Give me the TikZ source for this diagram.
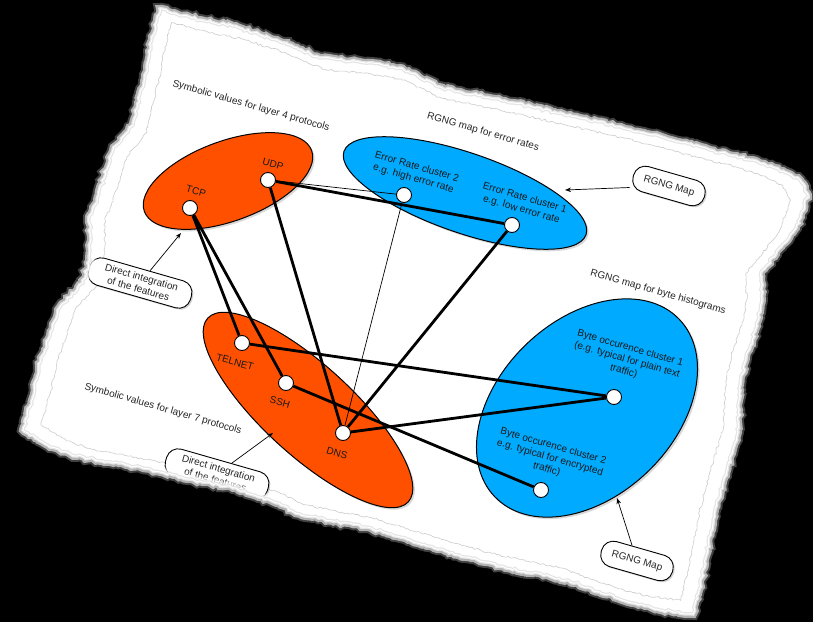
\documentclass[tikz,border=0pt]{standalone}
\usepackage{fontspec}
\setmainfont{Liberation Sans}
\usetikzlibrary{shapes.geometric,arrows.meta,decorations.pathmorphing,shadows}
\definecolor{orng}{HTML}{FF5000}
\definecolor{blu}{HTML}{00AAFF}
\pgfdeclarelayer{bg}
\pgfdeclarelayer{edges}
\pgfsetlayers{bg,edges,main}
\begin{document}
\begin{tikzpicture}[x=1pt,y=-1pt,
  ell/.style={ellipse, draw=black, line width=1pt, inner sep=0pt,
    drop shadow={opacity=0.3,shadow xshift=2pt,shadow yshift=-2pt}},
  pt/.style={circle, draw=black, fill=white, line width=0.9pt, minimum size=15pt, inner sep=0pt},
  lbl/.style={font=\fontsize{10}{12}\selectfont, rotate=-16, text=black!90, align=center, inner sep=0pt},
  ttl/.style={font=\fontsize{10}{12}\selectfont, rotate=-16, text=black!85, inner sep=0pt},
  callout/.style={draw=black, fill=white, rounded corners=12pt, line width=0.9pt, rotate=-16,
    font=\fontsize{10}{12}\selectfont, text=black!85, align=center, inner sep=0pt,
    drop shadow={opacity=0.35,shadow xshift=1.5pt,shadow yshift=-1.5pt}},
  heavy/.style={line width=2.8pt},
  light/.style={line width=0.7pt},
  ptr/.style={line width=0.7pt, -{Stealth[length=6pt,width=4.5pt]}}
]
\useasboundingbox (0,0) rectangle (813,621);

\begin{pgfonlayer}{bg}
\fill[white] (0,0) rectangle (813,621);
\begin{scope}[shift={(420,310)},scale=0.955,shift={(-420,-310)}]
\pgfmathsetseed{7}
\draw[gray!40, line width=0.6pt, decorate, decoration={random steps,segment length=2.5pt,amplitude=1pt}]
 (160,9) -- (200,20) -- (233,26) -- (277,40) -- (320,58) -- (360,62) -- (400,68) -- (442,88) -- (490,98) -- (532,107) -- (580,118) -- (621,127) -- (665,138) -- (710,150) -- (750,160) -- (775,168) -- (800,180) -- (808,195) -- (796,228) -- (776,254) -- (761,272) -- (762,300) -- (757,326) -- (746,358) -- (740,385) -- (738,432) -- (723,482) -- (713,520) -- (706,556) -- (699,590) -- (693,614) -- (660,610) -- (633,603) -- (600,592) -- (567,580) -- (533,573) -- (500,566) -- (467,557) -- (433,547) -- (400,537) -- (367,527) -- (333,521) -- (300,514) -- (270,500) -- (233,488) -- (187,479) -- (160,472) -- (143,468) -- (110,462) -- (77,456) -- (50,447) -- (23,430) -- (33,397) -- (40,363) -- (45,350) -- (52,330) -- (60,307) -- (83,283) -- (90,260) -- (90,215) -- (97,200) -- (113,150) -- (133,125) -- (147,67) -- (152,40) -- (157,20) -- cycle;
\end{scope}
\node[ell, fill=orng, minimum width=178pt, minimum height=80pt, rotate=20] (l4) at (228,181) {};
\node[ell, fill=blu, minimum width=256pt, minimum height=80pt, rotate=-19] (er) at (465,193) {};
\node[ell, fill=orng, minimum width=272pt, minimum height=90pt, rotate=-42.5] (l7) at (308,410) {};
\node[ell, fill=blu, minimum width=256pt, minimum height=176pt, rotate=44] (bh) at (587,408) {};
\end{pgfonlayer}

% titles
\node[ttl] (t4) at (251,106) {Symbolic values for layer 4 protocols};
\node[ttl] (ter) at (483,132) {RGNG map for error rates};
\node[ttl] (tbh) at (658,292) {RGNG map for byte histograms};
\node[ttl] (t7) at (163,409) {Symbolic values for layer 7 protocols};

% points
\node[pt] (tcp) at (190,208) {};
\node[pt] (udp) at (268,180) {};
\node[pt] (er2) at (404,195) {};
\node[pt] (er1) at (512,225) {};
\node[pt] (telnet) at (242,343) {};
\node[pt] (ssh) at (286,383) {};
\node[pt] (dns) at (343,433) {};
\node[pt] (bo1) at (614,397) {};
\node[pt] (bo2) at (541,490) {};

% labels
\node[lbl] (ltcp) at (196,191) {TCP};
\node[lbl] (ludp) at (273,164) {UDP};
\node[lbl] (ltel) at (235,362) {TELNET};
\node[lbl] (lssh) at (280,402) {SSH};
\node[lbl] (ldns) at (337,453) {DNS};
\node[lbl] (ler2) at (415,173) {Error Rate cluster 2\\e.g. high error rate};
\node[lbl] (ler1) at (523,204) {Error Rate cluster 1\\e.g. low error rate};
\node[lbl] (lbo1) at (627,360) {Byte occurence cluster 1\\(e.g. typical for plain text\\traffic)};
\node[lbl] (lbo2) at (550,458) {Byte occurence cluster 2\\e.g. typical for encrypted\\traffic)};

% edges
\begin{pgfonlayer}{edges}
\draw[heavy] (tcp) -- (telnet);
\draw[heavy] (tcp) -- (ssh);
\draw[heavy] (udp) -- (dns);
\draw[heavy] (udp) -- (er1);
\draw[light] (udp) -- (er2);
\draw[light] (er2) -- (dns);
\draw[heavy] (er1) -- (dns);
\draw[heavy] (telnet) -- (bo1);
\draw[heavy] (dns) -- (bo1);
\draw[heavy] (ssh) -- (bo2);
\end{pgfonlayer}

% callouts
\node[callout, minimum width=74pt, minimum height=26pt] (m1) at (669,186) {RGNG Map};
\node[callout, minimum width=74pt, minimum height=26pt] (m2) at (637,561) {RGNG Map};
\node[callout, minimum width=106pt, minimum height=28pt] (d1) at (140,283) {Direct integration\\of the features};
\node[callout, minimum width=106pt, minimum height=28pt] (d2) at (217,474) {Direct integration\\of the features};
\coordinate (a1) at (565,190);
\coordinate (a2) at (617,498);
\coordinate (a3) at (181,233);
\coordinate (a4) at (273,433);
\draw[ptr] (m1) -- (a1);
\draw[ptr] (m2) -- (a2);
\draw[ptr] (d1) -- (a3);
\draw[ptr] (d2) -- (a4);

% mask outside torn paper
\pgfmathsetseed{3}
\path[fill=black, even odd rule,
  postaction={draw=white, opacity=0.25, line width=12pt},
  postaction={draw=white, opacity=0.6, line width=8pt},
  postaction={draw=white!90!black, line width=3.5pt},
  postaction={draw=white, line width=1pt}]
 (-30,-30) rectangle (843,651)
 decorate[decoration={random steps,segment length=3pt,amplitude=1.3pt}]{
 (160,9) -- (200,20) -- (233,26) -- (277,40) -- (320,58) -- (360,62) -- (400,68) -- (442,88) -- (490,98) -- (532,107) -- (580,118) -- (621,127) -- (665,138) -- (710,150) -- (750,160) -- (775,168) -- (800,180) -- (808,195) -- (796,228) -- (776,254) -- (761,272) -- (762,300) -- (757,326) -- (746,358) -- (740,385) -- (738,432) -- (723,482) -- (713,520) -- (706,556) -- (699,590) -- (693,614) -- (660,610) -- (633,603) -- (600,592) -- (567,580) -- (533,573) -- (500,566) -- (467,557) -- (433,547) -- (400,537) -- (367,527) -- (333,521) -- (300,514) -- (270,500) -- (233,488) -- (187,479) -- (160,472) -- (143,468) -- (110,462) -- (77,456) -- (50,447) -- (23,430) -- (33,397) -- (40,363) -- (45,350) -- (52,330) -- (60,307) -- (83,283) -- (90,260) -- (90,215) -- (97,200) -- (113,150) -- (133,125) -- (147,67) -- (152,40) -- (157,20) -- cycle};
\end{tikzpicture}
\end{document}
